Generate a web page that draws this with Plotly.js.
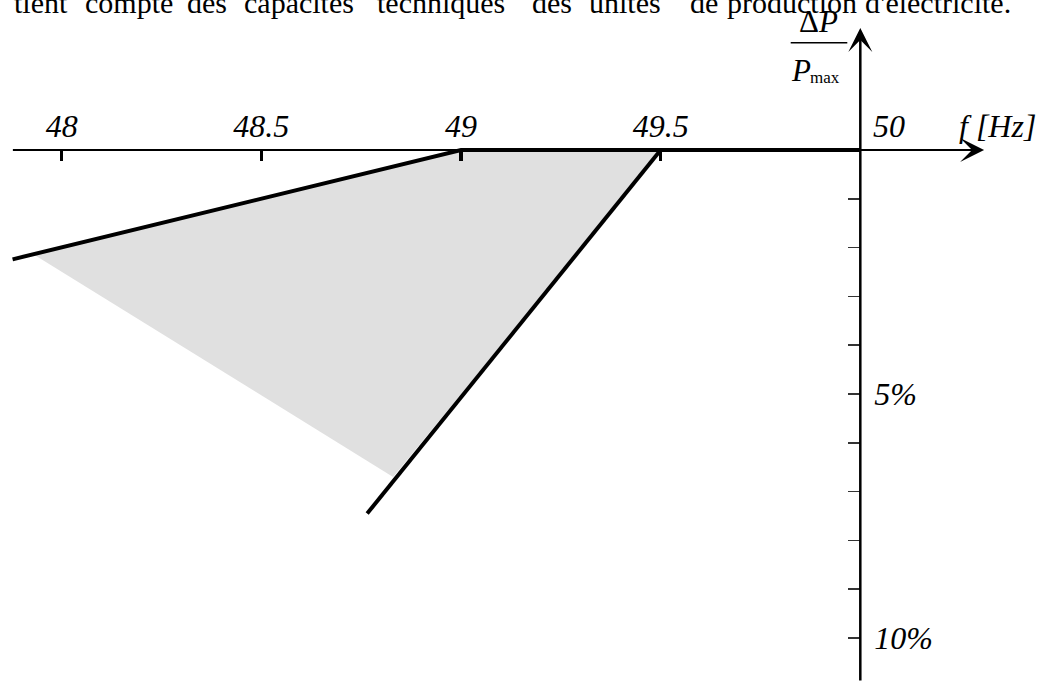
<!DOCTYPE html>
<html>
<head>
<meta charset="utf-8">
<script src="https://cdn.plot.ly/plotly-3.0.1.min.js"></script>
<style>
  html, body { margin: 0; padding: 0; background: #fff; }
  #plot { width: 1040px; height: 681px; }
</style>
</head>
<body>
<div id="plot"></div>
<script>
// Données (f en Hz, ΔP/Pmax en %)
const lowLineF = [47.877, 49, 50];
const lowLineP = [2.24, 0, 0];
const highLineF = [48.765, 49.5];
const highLineP = [7.45, 0];
const bandF = [47.93, 49, 49.5, 48.83];
const bandP = [2.14, 0, 0, 6.7];

const xTickVals = [48, 48.5, 49, 49.5];
const xTickText = ['48', '48.5', '49', '49.5'];
const yTickVals = [1, 2, 3, 4, 5, 6, 7, 8, 9, 10];
const yTickText = ['', '', '', '', '5%', '', '', '', '', '10%'];

const headerWords = ['tient', 'compte', 'des', 'capacités', 'techniques', 'des', 'unités', 'de', 'production', "d'électricité."];

// mise en page
const W = 1040, H = 681;
const px = x => x / W;
const py = y => 1 - y / H;
const serif = 'Liberation Serif, Times New Roman, serif';
const headerX = [12, 83, 185, 242, 375, 530, 587, 688, 725, 863];

const band = {
    x: bandF, y: bandP,
    type: 'scatter', mode: 'lines',
    fill: 'toself', fillcolor: '#e0e0e0',
    line: { width: 0, color: '#e0e0e0' },
    hoverinfo: 'skip'
};
const lowLine = {
    x: lowLineF, y: lowLineP,
    type: 'scatter', mode: 'lines',
    line: { color: '#000', width: 4 }
};
const highLine = {
    x: highLineF, y: highLineP,
    type: 'scatter', mode: 'lines',
    line: { color: '#000', width: 4 }
};
// trace vide pour activer l'axe x2 (étiquettes au-dessus)
const dummy = { x: [48], y: [0], xaxis: 'x2', mode: 'markers', marker: { opacity: 0 }, hoverinfo: 'skip' };

const annotations = [];
headerWords.forEach((w, i) => {
    annotations.push({
        text: w, xref: 'paper', yref: 'paper',
        x: px(headerX[i]), y: py(2), xanchor: 'left', yanchor: 'middle',
        showarrow: false, font: { family: serif, size: 30, color: '#000' }
    });
});

// axes avec flèches
annotations.push({
    x: 50.31, y: 0, ax: 47.874, ay: 0, xref: 'x', yref: 'y', axref: 'x', ayref: 'y',
    text: '', showarrow: true, arrowhead: 3, arrowsize: 2.0, arrowwidth: 2, arrowcolor: '#000', standoff: 0
});
annotations.push({
    x: 50, y: -2.5, ax: 50, ay: 10.9, xref: 'x', yref: 'y', axref: 'x', ayref: 'y',
    text: '', showarrow: true, arrowhead: 3, arrowsize: 1.6, arrowwidth: 2.5, arrowcolor: '#000', standoff: 0
});

const italic = { family: serif, size: 32, color: '#000', style: 'italic' };
annotations.push({ text: '50', xref: 'paper', yref: 'paper', x: px(889), y: py(126), xanchor: 'center', yanchor: 'middle', showarrow: false, font: italic });
annotations.push({ text: 'f [Hz]', xref: 'paper', yref: 'paper', x: px(997), y: py(126), xanchor: 'center', yanchor: 'middle', showarrow: false, font: italic });
annotations.push({ text: 'Δ<i>P</i>', xref: 'paper', yref: 'paper', x: px(818), y: py(21), xanchor: 'center', yanchor: 'middle', showarrow: false, font: { family: serif, size: 31, color: '#000' } });
annotations.push({ text: 'P', xref: 'paper', yref: 'paper', x: px(801), y: py(70), xanchor: 'center', yanchor: 'middle', showarrow: false, font: { family: serif, size: 31, color: '#000', style: 'italic' } });
annotations.push({ text: 'max', xref: 'paper', yref: 'paper', x: px(825), y: py(77), xanchor: 'center', yanchor: 'middle', showarrow: false, font: { family: serif, size: 17, color: '#000' } });

const layout = {
    width: W, height: H,
    margin: { l: 0, r: 0, t: 0, b: 0 },
    paper_bgcolor: '#fff', plot_bgcolor: '#fff',
    showlegend: false,
    xaxis: {
        range: [47.8455, 50.45], anchor: 'free', position: py(150), side: 'bottom',
        showgrid: false, zeroline: false, showline: false,
        tickvals: xTickVals, ticks: 'outside', ticklen: 10, tickwidth: 3.5, tickcolor: '#000',
        showticklabels: false
    },
    xaxis2: {
        range: [47.8455, 50.45], overlaying: 'x', anchor: 'free', position: py(150), side: 'top',
        showgrid: false, zeroline: false, showline: false, ticks: '',
        tickvals: xTickVals, ticktext: xTickText, ticklabelstandoff: 7,
        tickfont: italic
    },
    yaxis: {
        range: [10.881, -3.074], anchor: 'free', position: px(860.3), side: 'right',
        showgrid: false, zeroline: false, showline: false,
        tickvals: yTickVals, ticktext: yTickText,
        ticks: 'inside', ticklen: 12, tickwidth: 1.5, tickcolor: '#333',
        ticklabelstandoff: 13, tickfont: italic
    },
    shapes: [{
        type: 'line', xref: 'paper', yref: 'paper',
        x0: px(790.7), x1: px(847.3), y0: py(42.7), y1: py(42.7),
        line: { color: '#000', width: 1.5 }
    }],
    annotations: annotations
};

Plotly.newPlot('plot', [band, lowLine, highLine, dummy], layout, { staticPlot: true, displayModeBar: false });
</script>
</body>
</html>
